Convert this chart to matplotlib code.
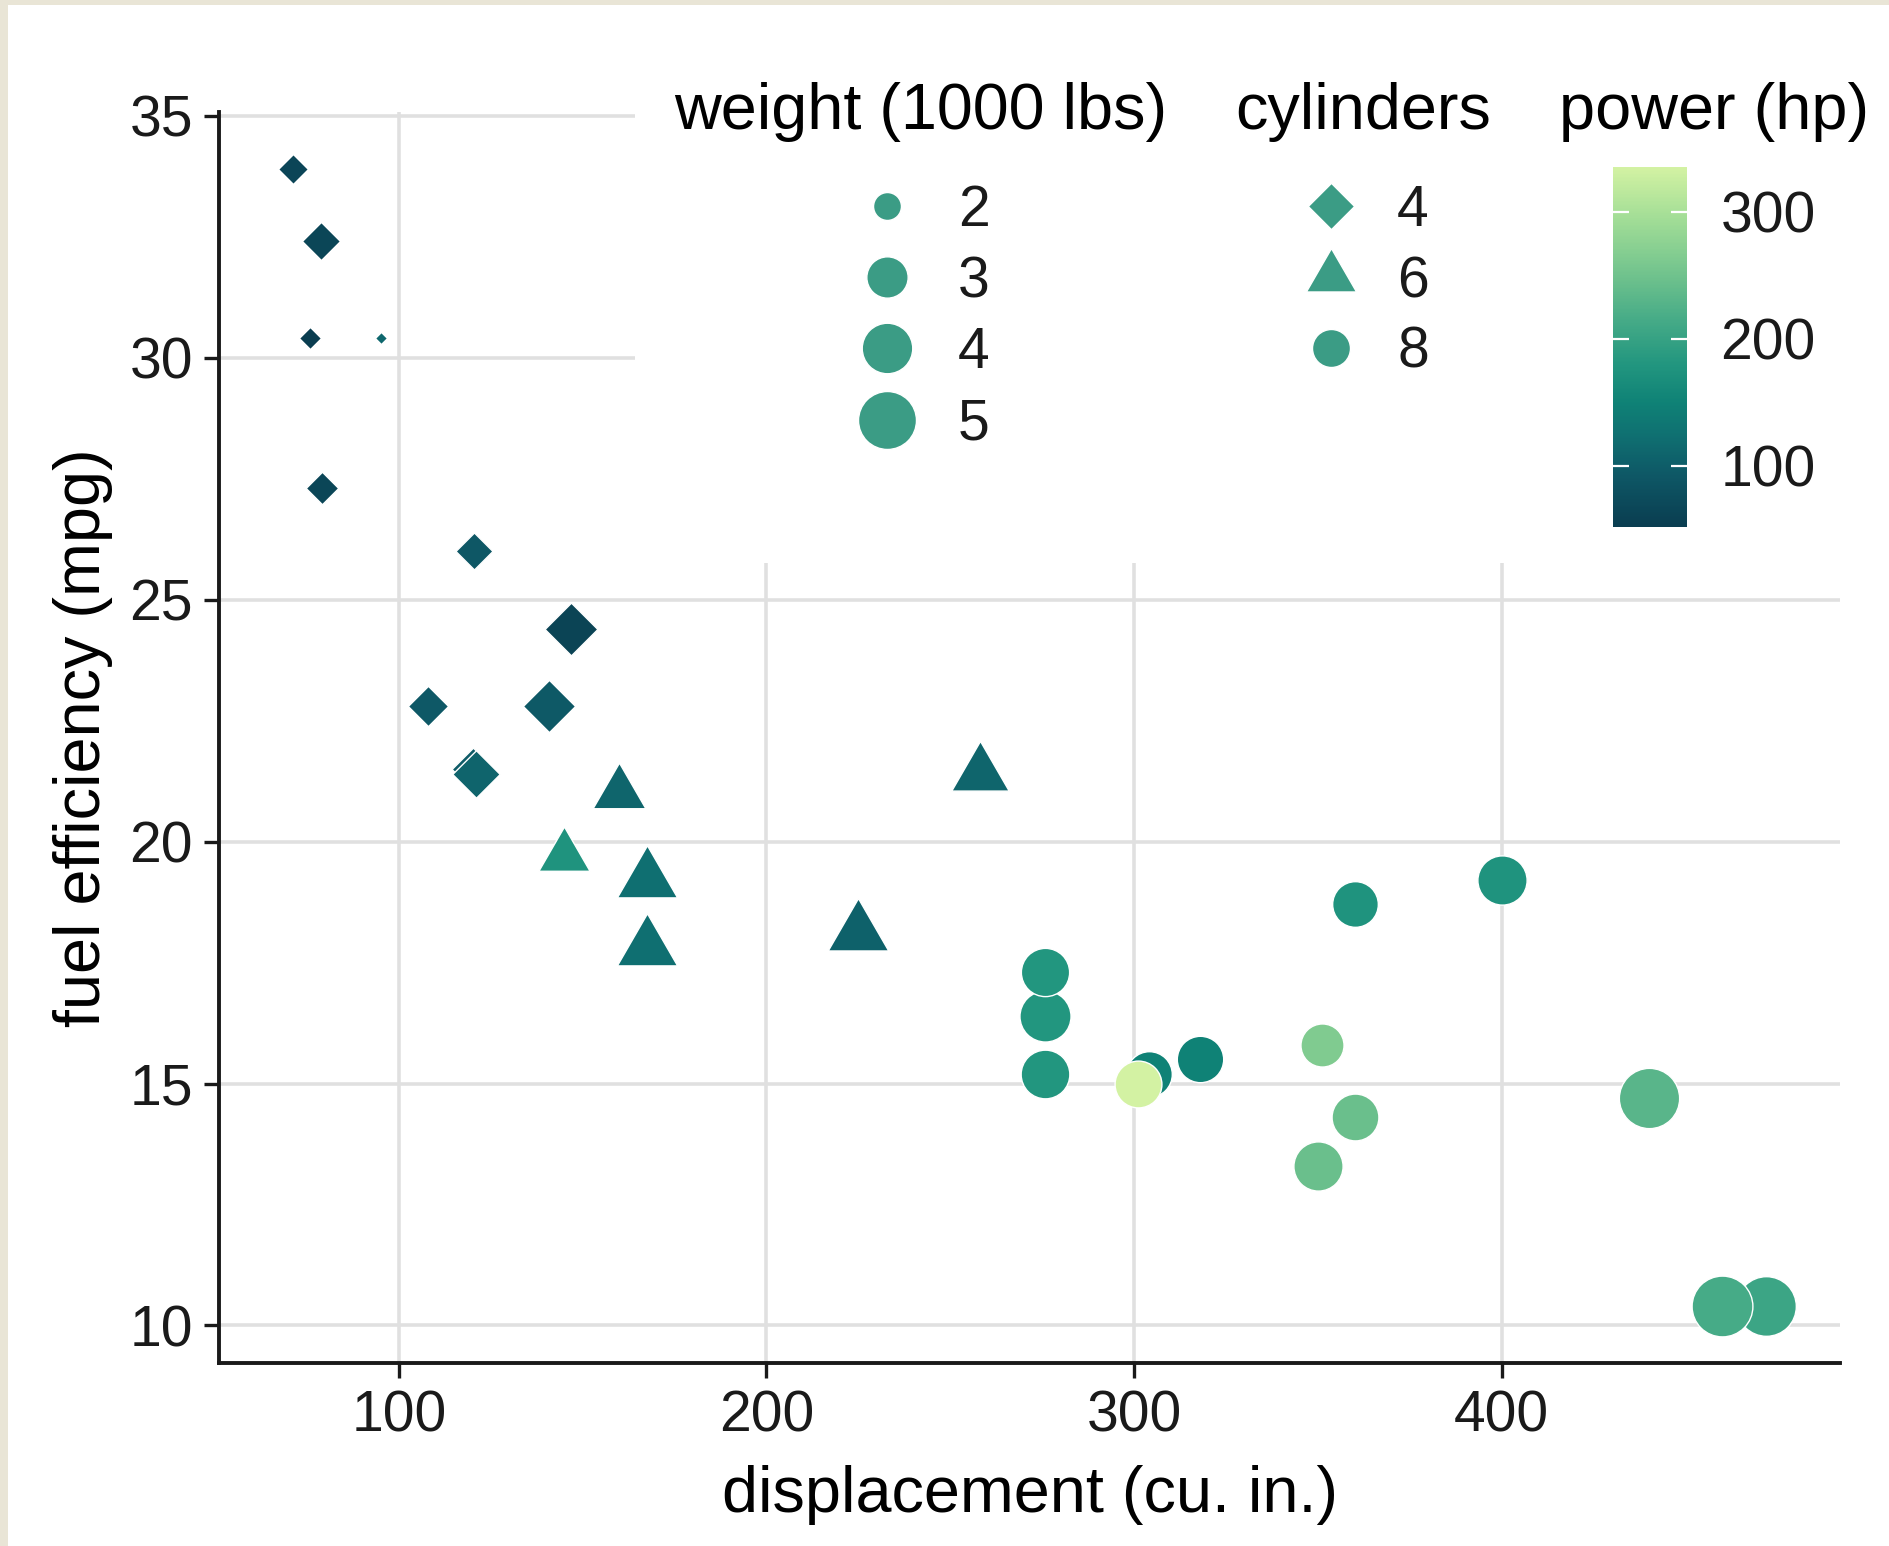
import matplotlib

matplotlib.use("Agg")
import matplotlib.pyplot as plt
import numpy as np
from matplotlib.colors import LinearSegmentedColormap, Normalize
from matplotlib.path import Path
from matplotlib.patches import Rectangle
from matplotlib.cm import ScalarMappable


# mtcars, in row order (drawing order matters for overlaps)
displacement = [160.0, 160.0, 108.0, 258.0, 360.0, 225.0, 360.0, 146.7, 140.8, 167.6,
                167.6, 275.8, 275.8, 275.8, 472.0, 460.0, 440.0, 78.7, 75.7, 71.1,
                120.1, 318.0, 304.0, 350.0, 400.0, 79.0, 120.3, 95.1, 351.0, 145.0,
                301.0, 121.0]
mpg = [21.0, 21.0, 22.8, 21.4, 18.7, 18.1, 14.3, 24.4, 22.8, 19.2,
       17.8, 16.4, 17.3, 15.2, 10.4, 10.4, 14.7, 32.4, 30.4, 33.9,
       21.5, 15.5, 15.2, 13.3, 19.2, 27.3, 26.0, 30.4, 15.8, 19.7,
       15.0, 21.4]
cylinders = [6, 6, 4, 6, 8, 6, 8, 4, 4, 6,
             6, 8, 8, 8, 8, 8, 8, 4, 4, 4,
             4, 8, 8, 8, 8, 4, 4, 4, 8, 6,
             8, 4]
horsepower = [110, 110, 93, 110, 175, 105, 245, 62, 95, 123,
              123, 180, 180, 180, 205, 215, 230, 66, 52, 65,
              97, 150, 150, 245, 175, 66, 91, 113, 264, 175,
              335, 109]
weight = [2.620, 2.875, 2.320, 3.215, 3.440, 3.460, 3.570, 3.190, 3.150, 3.440,
          3.440, 4.070, 3.730, 3.780, 5.250, 5.424, 5.345, 2.200, 1.615, 1.835,
          2.465, 3.520, 3.435, 3.840, 3.845, 1.935, 2.140, 1.513, 3.170, 2.770,
          3.570, 2.780]

x_ticks = [100, 200, 300, 400]
y_ticks = [10, 15, 20, 25, 30, 35]
weight_breaks = [2, 3, 4, 5]
cyl_levels = [4, 6, 8]
hp_ticks = [100, 200, 300]

W, H = 1889, 1546
DPI = 200
PT = 72 / DPI  # pixels -> points

# Emrld-like sequential palette (dark teal -> pale lime)
emrld = LinearSegmentedColormap.from_list(
    "emrld",
    [(0.0, "#0a3d50"), (0.145, "#0e5866"), (0.25, "#0f6f71"), (0.346, "#0f8276"),
     (0.452, "#22967f"), (0.576, "#46ab87"), (0.682, "#6abf8c"), (0.749, "#80cb90"),
     (0.87, "#a6df97"), (1.0, "#d3f2a3")],
)
norm = Normalize(vmin=min(horsepower), vmax=max(horsepower))
KEY_COLOR = "#3b9c85"
FONT = "Liberation Sans"
TICK_SIZE = 20.5
TITLE_SIZE = 23.3

# shape paths, in units of the circle radius
TRI = Path([(0, 1.524), (-1.32, -0.762), (1.32, -0.762), (0, 1.524)],
           [Path.MOVETO, Path.LINETO, Path.LINETO, Path.CLOSEPOLY])
DIA = Path([(1.22, 0), (0, 1.22), (-1.22, 0), (0, -1.22), (1.22, 0)],
           [Path.MOVETO, Path.LINETO, Path.LINETO, Path.LINETO, Path.CLOSEPOLY])
SHAPES = {4: (DIA, 1.22), 6: (TRI, 1.524), 8: ("o", 1.0)}

w_min, w_max = min(weight), max(weight)


def diameter_px(wt):
    # area-style size scale, like ggplot's scale_size
    frac = (wt - w_min) / (w_max - w_min)
    return 10 + 50.8 * np.sqrt(max(frac, 0))


def marker_s(d_px, extent):
    return (extent * d_px * PT) ** 2


plt.rcParams["font.family"] = [FONT, "DejaVu Sans"]

fig = plt.figure(figsize=(W / DPI, H / DPI), dpi=DPI, facecolor="#e9e5d6")
fig.add_artist(Rectangle((8 / W, 0), 1, 1 - 5 / H, transform=fig.transFigure,
                         facecolor="white", edgecolor="none", zorder=-10))

left, right, top, bottom = 219, 1840, 112, 1363
ax = fig.add_axes([left / W, 1 - bottom / H, (right - left) / W, (bottom - top) / H])
ax.set_facecolor("none")

for i in range(len(mpg)):
    marker, extent = SHAPES[cylinders[i]]
    ax.scatter([displacement[i]], [mpg[i]], marker=marker,
               s=marker_s(diameter_px(weight[i]), extent),
               c=[horsepower[i]], cmap=emrld, norm=norm,
               edgecolors="white", linewidths=0.5, zorder=3)

x_pad = 0.05 * (max(displacement) - min(displacement))
y_pad = 0.05 * (max(mpg) - min(mpg))
ax.set_xlim(min(displacement) - x_pad, max(displacement) + x_pad)
ax.set_ylim(min(mpg) - y_pad, max(mpg) + y_pad)
ax.set_xticks(x_ticks)
ax.set_yticks(y_ticks)
ax.grid(True, color="#e0e0e0", linewidth=1.3)
ax.set_axisbelow(True)
for side in ("top", "right"):
    ax.spines[side].set_visible(False)
for side in ("left", "bottom"):
    ax.spines[side].set_linewidth(1.4)
    ax.spines[side].set_color("#1a1a1a")
ax.tick_params(length=5.4, width=1.2, color="#1a1a1a", labelsize=TICK_SIZE,
               labelcolor="#1a1a1a", pad=4)
ax.set_xlabel("displacement (cu. in.)", fontsize=TITLE_SIZE, labelpad=8)
ax.set_ylabel("fuel efficiency (mpg)", fontsize=TITLE_SIZE, labelpad=6)

# legend layer, in figure pixels
lax = fig.add_axes([0, 0, 1, 1], zorder=1)
lax.set_xlim(0, W)
lax.set_ylim(H, 0)
lax.axis("off")
lax.add_patch(Rectangle((635, 100), right - 635 + 2, 563 - 100,
                        facecolor="white", edgecolor="none", zorder=0))

title_base = 129
rows = [206, 277, 348, 420]
label_kw = dict(fontsize=TICK_SIZE, va="baseline", ha="left", color="#1a1a1a")

lax.text(674, title_base, "weight (1000 lbs)", fontsize=TITLE_SIZE, va="baseline")
for wt, yy in zip(weight_breaks, rows):
    lax.scatter([887], [yy], marker="o", s=marker_s(diameter_px(wt), 1.0),
                color=KEY_COLOR, edgecolors="white", linewidths=0.5, zorder=3)
    lax.text(958, yy + 20, str(wt), **label_kw)

lax.text(1235, title_base, "cylinders", fontsize=TITLE_SIZE, va="baseline")
for cyl, yy in zip(cyl_levels, rows):
    marker, extent = SHAPES[cyl]
    lax.scatter([1331], [yy], marker=marker, s=marker_s(38, extent),
                color=KEY_COLOR, edgecolors="white", linewidths=0.5, zorder=3)
    lax.text(1397, yy + 20, str(cyl), **label_kw)

lax.text(1559, title_base, "power (hp)", fontsize=TITLE_SIZE, va="baseline")

cax = fig.add_axes([1613 / W, 1 - 527 / H, 74 / W, 360 / H], zorder=2)
cbar = fig.colorbar(ScalarMappable(norm=norm, cmap=emrld), cax=cax)
cbar.outline.set_visible(False)
cbar.set_ticks(hp_ticks)
cax.tick_params(direction="in", length=5.6, width=0.8, color="white",
                left=True, right=True, labelleft=False, labelright=True,
                labelsize=TICK_SIZE, labelcolor="#1a1a1a", pad=12)

fig.savefig("out.png", dpi=DPI, facecolor=fig.get_facecolor())
plt.close(fig)
